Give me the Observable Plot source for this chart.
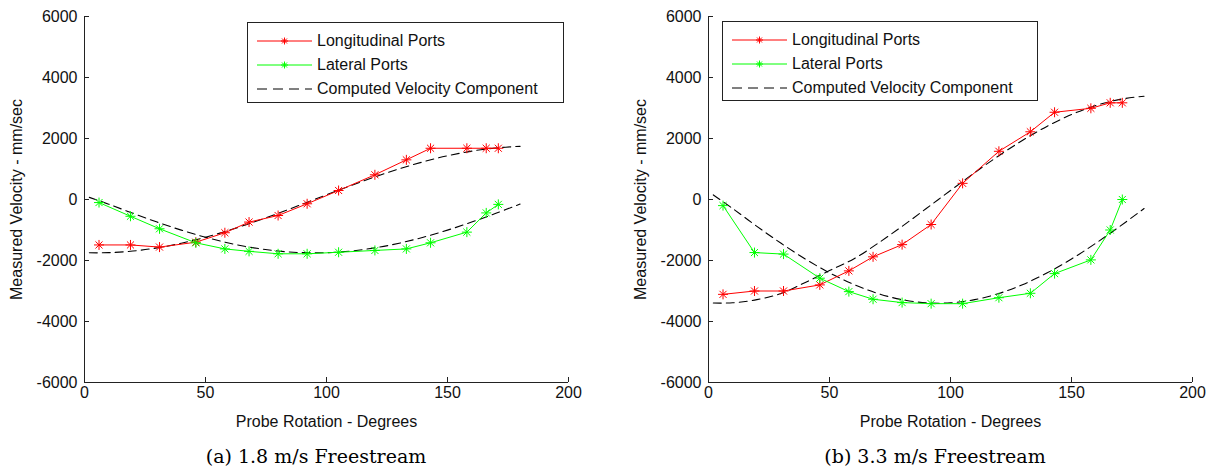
<!DOCTYPE html>
<html><head><meta charset="utf-8">
<script src="https://cdn.jsdelivr.net/npm/d3@7"></script>
<script src="https://cdn.jsdelivr.net/npm/@observablehq/plot@0.6"></script>
<style>
body{margin:0;background:#fff;}
#wrap{position:relative;width:1212px;height:469px;overflow:hidden;font-family:"Liberation Sans",Arial,sans-serif;background:#fff;}
.panel{position:absolute;top:0;}
.legend{position:absolute;border:1px solid #222;background:#fff;box-sizing:border-box;}
.legend .row{position:absolute;left:0;height:24px;display:flex;align-items:center;font-size:16px;color:#111;white-space:nowrap;}
.legend .row svg{margin-left:9px;margin-right:5px;}
.caption{position:absolute;font-family:"DejaVu Serif","Liberation Serif",serif;font-size:19px;text-align:center;white-space:nowrap;color:#000;}
</style></head>
<body>
<div id="wrap"></div>
<script>
// ---- data ----
const angles = [6, 19, 31, 46, 58, 68, 80, 92, 105, 120, 133, 143, 158, 166, 171];
const longA = [-1490, -1490, -1560, -1400, -1090, -740, -525, -140, 295, 810, 1300, 1680, 1680, 1680, 1680];
const latA  = [-100, -550, -960, -1420, -1620, -1700, -1780, -1780, -1730, -1670, -1620, -1420, -1070, -440, -160];
const longB = [-3110, -3000, -3000, -2800, -2340, -1880, -1480, -820, 530, 1580, 2220, 2860, 2990, 3170, 3170];
const latB  = [-200, -1740, -1790, -2580, -3020, -3270, -3380, -3415, -3415, -3220, -3075, -2430, -1980, -1000, 0];

const compAngles = [2, 10, 20, 30, 40, 50, 60, 70, 80, 90, 100, 110, 120, 130, 140, 150, 160, 170, 180];
const compLongA = [-1748, -1743, -1690, -1586, -1434, -1237, -1004, -740, -453, -153, 153, 453, 740, 1004, 1237, 1434, 1586, 1690, 1743];
const compLatA  = [70, -153, -453, -740, -1004, -1237, -1434, -1586, -1690, -1743, -1743, -1690, -1586, -1434, -1237, -1004, -740, -453, -150];
const compLongB = [-3395, -3387, -3284, -3081, -2720, -2330, -1950, -1437, -880, -296, 296, 880, 1437, 1950, 2404, 2785, 3081, 3284, 3387];
const compLatB  = [150, -296, -880, -1437, -1950, -2404, -2785, -3081, -3284, -3387, -3387, -3284, -3081, -2785, -2404, -1950, -1437, -880, -296];

const xTicks = [0, 50, 100, 150, 200];
const yTicks = [-6000, -4000, -2000, 0, 2000, 4000, 6000];
const seriesNames = ["Longitudinal Ports", "Lateral Ports", "Computed Velocity Component"];
const captions = ["(a) 1.8 m/s Freestream", "(b) 3.3 m/s Freestream"];
const xLabel = "Probe Rotation - Degrees";
const yLabel = "Measured Velocity - mm/sec";

const RED = "#ff0000", GREEN = "#00ff00", BLACK = "#000000";

const asterisk = {
  draw(ctx, size) {
    const r = Math.sqrt(size / Math.PI), d = r * Math.SQRT1_2;
    ctx.moveTo(-r, 0); ctx.lineTo(r, 0);
    ctx.moveTo(0, -r); ctx.lineTo(0, r);
    ctx.moveTo(-d, -d); ctx.lineTo(d, d);
    ctx.moveTo(-d, d); ctx.lineTo(d, -d);
  }
};

function rows(xs, ys) { return xs.map((x, i) => ({x, y: ys[i]})); }

function panel(longV, latV, compLong, compLat, ml, mr) {
  const L = rows(angles, longV), T = rows(angles, latV);
  const CL = rows(compAngles, compLong), CT = rows(compAngles, compLat);
  return Plot.plot({
    width: 606, height: 440,
    marginLeft: ml, marginRight: mr, marginTop: 16, marginBottom: 58,
    style: {fontFamily: '"Liberation Sans", Arial, sans-serif', fontSize: "16px", color: "#111", background: "#fff", overflow: "visible"},
    x: {domain: [0, 200]},
    y: {domain: [-6000, 6000]},
    marks: [
      Plot.line(CL, {x: "x", y: "y", stroke: BLACK, strokeWidth: 1.1, strokeDasharray: "8,5", curve: "catmull-rom"}),
      Plot.line(CT, {x: "x", y: "y", stroke: BLACK, strokeWidth: 1.1, strokeDasharray: "8,5", curve: "catmull-rom"}),
      Plot.line(L, {x: "x", y: "y", stroke: RED, strokeWidth: 1}),
      Plot.line(T, {x: "x", y: "y", stroke: GREEN, strokeWidth: 1}),
      Plot.dot(L, {x: "x", y: "y", symbol: asterisk, r: 5, stroke: RED, fill: "none", strokeWidth: 1}),
      Plot.dot(T, {x: "x", y: "y", symbol: asterisk, r: 5, stroke: GREEN, fill: "none", strokeWidth: 1}),
      Plot.ruleX([0], {stroke: "#222"}),
      Plot.ruleY([-6000], {stroke: "#222"}),
      Plot.axisX({ticks: xTicks, tickSize: -5, tickPadding: 9, tickFormat: d => String(d), stroke: "#222",
                  label: xLabel, labelAnchor: "center", labelOffset: 44, labelArrow: "none"}),
      Plot.axisY({ticks: yTicks, tickSize: -5, tickPadding: 12, tickFormat: d => String(d), stroke: "#222",
                  label: yLabel, labelAnchor: "center", labelOffset: 74, labelArrow: "none"})
    ]
  });
}

function legend(left, top, width, height) {
  const div = document.createElement("div");
  div.className = "legend";
  Object.assign(div.style, {left: left + "px", top: top + "px", width: width + "px", height: height + "px"});
  const styles = [
    {color: RED, dash: null, marker: true},
    {color: GREEN, dash: null, marker: true},
    {color: BLACK, dash: "10,6", marker: false}
  ];
  seriesNames.forEach((name, i) => {
    const row = document.createElement("div");
    row.className = "row";
    row.style.top = (6 + i * 24) + "px";
    const s = styles[i];
    const ns = "http://www.w3.org/2000/svg";
    const svg = document.createElementNS(ns, "svg");
    svg.setAttribute("width", 55); svg.setAttribute("height", 12);
    const ln = document.createElementNS(ns, "line");
    ln.setAttribute("x1", 0); ln.setAttribute("x2", 55); ln.setAttribute("y1", 6); ln.setAttribute("y2", 6);
    ln.setAttribute("stroke", s.color); ln.setAttribute("stroke-width", 1);
    if (s.dash) ln.setAttribute("stroke-dasharray", s.dash);
    svg.appendChild(ln);
    if (s.marker) {
      const p = document.createElementNS(ns, "path");
      const path = d3.path();
      asterisk.draw(path, Math.PI * 3.5 * 3.5);
      p.setAttribute("d", path.toString());
      p.setAttribute("transform", "translate(27.5,6)");
      p.setAttribute("stroke", s.color); p.setAttribute("fill", "none");
      svg.appendChild(p);
    }
    row.appendChild(svg);
    const t = document.createElement("span");
    t.textContent = name;
    row.appendChild(t);
    div.appendChild(row);
  });
  return div;
}

const wrap = document.getElementById("wrap");
const pA = panel(longA, latA, compLongA, compLatA, 84, 38);
pA.classList.add("panel"); pA.style.left = "0px";
const pB = panel(longB, latB, compLongB, compLatB, 102, 20);
pB.classList.add("panel"); pB.style.left = "606px";
wrap.appendChild(pA); wrap.appendChild(pB);
wrap.appendChild(legend(247, 22, 317, 81));
wrap.appendChild(legend(722, 21, 316, 80));

[[316, captions[0]], [935, captions[1]]].forEach(([cx, txt]) => {
  const c = document.createElement("div");
  c.className = "caption";
  c.textContent = txt;
  c.style.left = (cx - 150) + "px";
  c.style.width = "300px";
  c.style.top = "445px";
  wrap.appendChild(c);
});
</script>
</body></html>
